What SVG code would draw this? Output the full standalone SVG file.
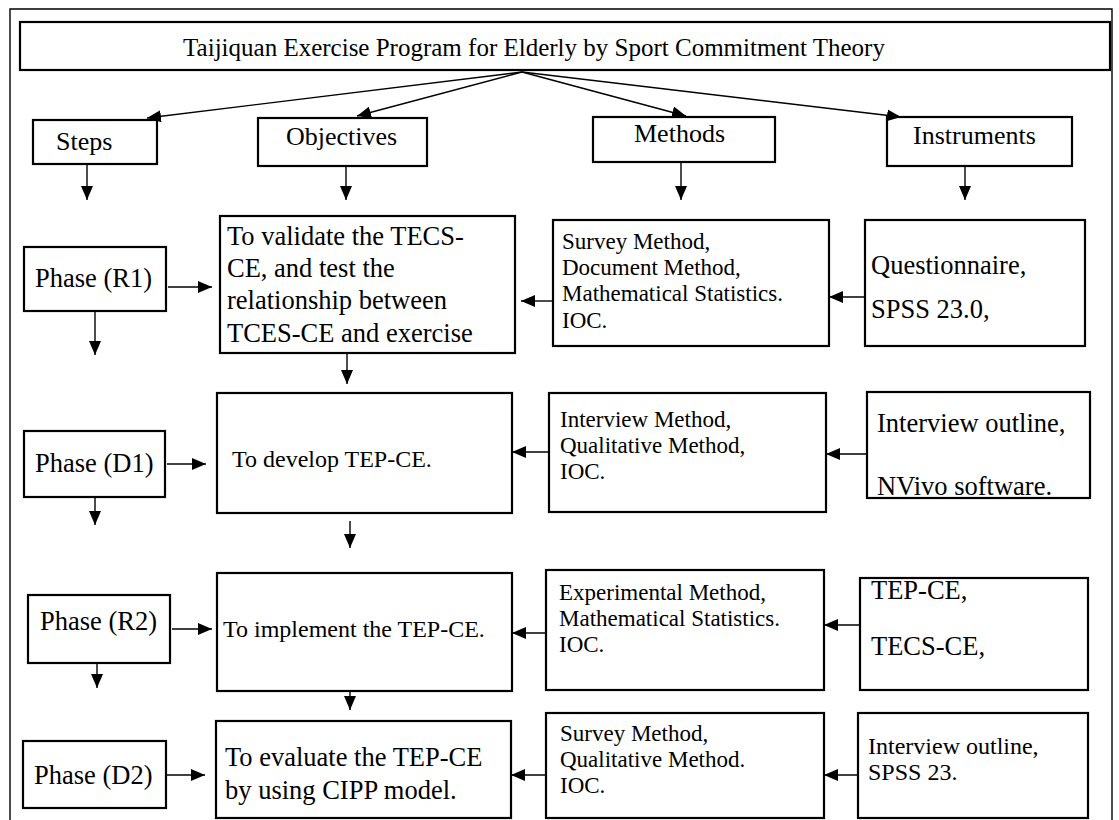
<svg xmlns="http://www.w3.org/2000/svg" width="1119" height="820" viewBox="0 0 1119 820">
<style>
.box{fill:#fff;stroke:#000;stroke-width:2.2}
.ln{fill:none;stroke:#000;stroke-width:1.4}
text{font-family:"Liberation Serif","Times New Roman",serif;fill:#000}
.tt{font-size:25px}
.hd{font-size:26px}
.ph{font-size:26.5px}
.ob{font-size:26.5px}
.ob2{font-size:24px}
.me{font-size:23px}
.in{font-size:26.5px}
.in2{font-size:24px}
</style>
<defs>
<marker id="ah" viewBox="0 0 14 12" refX="14" refY="6" markerWidth="14" markerHeight="12" markerUnits="userSpaceOnUse" orient="auto">
<path d="M0,0 L14,6 L0,12 z" fill="#000"/>
</marker>
</defs>
<rect width="1119" height="820" fill="#fff"/>
<path d="M10,820 V9 H1112 V820" class="ln" stroke-width="2"/>

<g id="title"><rect class="box" x="20" y="22" width="1090" height="48"/><text class="tt" x="534" y="56" text-anchor="middle">Taijiquan Exercise Program for Elderly by Sport Commitment Theory</text></g>

<g id="steps"><rect class="box" x="33" y="120" width="124" height="44"/><text class="hd" x="56" y="150">Steps</text></g>
<g id="objectives"><rect class="box" x="258" y="118" width="169" height="48"/><text class="hd" x="286" y="145">Objectives</text></g>
<g id="methods"><rect class="box" x="593" y="117" width="182" height="45"/><text class="hd" x="634" y="142">Methods</text></g>
<g id="instruments"><rect class="box" x="887" y="117" width="185" height="49"/><text class="hd" x="913" y="144">Instruments</text></g>

<g id="phaseR1"><rect class="box" x="24" y="247" width="142" height="64"/><text class="ph" x="35" y="287">Phase (R1)</text></g>
<g id="objR1"><rect class="box" x="220" y="216" width="295" height="137"/><text class="ob"><tspan x="227" y="245">To validate the TECS-</tspan><tspan x="227" y="277">CE, and test the</tspan><tspan x="227" y="309">relationship between</tspan><tspan x="227" y="342">TCES-CE and exercise</tspan></text></g>
<g id="methR1"><rect class="box" x="553" y="220" width="276" height="126"/><text class="me"><tspan x="562" y="249">Survey Method,</tspan><tspan x="562" y="275">Document Method,</tspan><tspan x="562" y="301">Mathematical Statistics.</tspan><tspan x="562" y="328">IOC.</tspan></text></g>
<g id="instR1"><rect class="box" x="865" y="220" width="220" height="126"/><text class="in"><tspan x="871" y="274">Questionnaire,</tspan><tspan x="871" y="318">SPSS 23.0,</tspan></text></g>

<g id="phaseD1"><rect class="box" x="24" y="431" width="141" height="66"/><text class="ph" x="35" y="472">Phase (D1)</text></g>
<g id="objD1"><rect class="box" x="217" y="393" width="295" height="120"/><text class="ob2" x="232" y="467">To develop TEP-CE.</text></g>
<g id="methD1"><rect class="box" x="549" y="393" width="277" height="119"/><text class="me"><tspan x="560" y="427">Interview Method,</tspan><tspan x="560" y="453">Qualitative Method,</tspan><tspan x="560" y="479">IOC.</tspan></text></g>
<g id="instD1"><rect class="box" x="867" y="392" width="223" height="106"/><text class="in"><tspan x="877" y="432">Interview outline,</tspan><tspan x="877" y="495">NVivo software.</tspan></text></g>

<g id="phaseR2"><rect class="box" x="28" y="595" width="142" height="68"/><text class="ph" x="40" y="630">Phase (R2)</text></g>
<g id="objR2"><rect class="box" x="217" y="573" width="295" height="118"/><text class="ob2" x="223" y="637">To implement the TEP-CE.</text></g>
<g id="methR2"><rect class="box" x="546" y="570" width="278" height="120"/><text class="me"><tspan x="559" y="600">Experimental Method,</tspan><tspan x="559" y="626">Mathematical Statistics.</tspan><tspan x="559" y="652">IOC.</tspan></text></g>
<g id="instR2"><rect class="box" x="860" y="578" width="228" height="112"/><text class="in"><tspan x="871" y="599">TEP-CE,</tspan><tspan x="871" y="655">TECS-CE,</tspan></text></g>

<g id="phaseD2"><rect class="box" x="23" y="741" width="143" height="67"/><text class="ph" x="34" y="784">Phase (D2)</text></g>
<g id="objD2"><rect class="box" x="216" y="721" width="295" height="97"/><text class="ob"><tspan x="225" y="766">To evaluate the TEP-CE</tspan><tspan x="225" y="799">by using CIPP model.</tspan></text></g>
<g id="methD2"><rect class="box" x="546" y="713" width="278" height="105"/><text class="me"><tspan x="560" y="741">Survey Method,</tspan><tspan x="560" y="767">Qualitative Method.</tspan><tspan x="560" y="793">IOC.</tspan></text></g>
<g id="instD2"><rect class="box" x="858" y="713" width="230" height="105"/><text class="in2"><tspan x="868" y="754">Interview outline,</tspan><tspan x="868" y="780">SPSS 23.</tspan></text></g>

<g id="connectors" class="ln" marker-end="url(#ah)">
<line x1="522" y1="72" x2="147" y2="118"/>
<line x1="522" y1="72" x2="357" y2="116"/>
<line x1="522" y1="72" x2="686" y2="116"/>
<line x1="522" y1="72" x2="901" y2="117"/>
<line x1="87" y1="164" x2="87" y2="200"/>
<line x1="346" y1="166" x2="346" y2="200"/>
<line x1="681" y1="162" x2="681" y2="200"/>
<line x1="965" y1="166" x2="965" y2="200"/>
<line x1="168" y1="287" x2="212" y2="287"/>
<line x1="553" y1="301" x2="521" y2="301"/>
<line x1="865" y1="297" x2="829" y2="297"/>
<line x1="95" y1="311" x2="95" y2="355"/>
<line x1="347" y1="353" x2="347" y2="384"/>
<line x1="167" y1="464" x2="206" y2="464"/>
<line x1="549" y1="452" x2="512" y2="452"/>
<line x1="867" y1="454" x2="826" y2="454"/>
<line x1="95" y1="497" x2="95" y2="525"/>
<line x1="350" y1="521" x2="350" y2="548"/>
<line x1="172" y1="629" x2="212" y2="629"/>
<line x1="546" y1="633" x2="512" y2="633"/>
<line x1="860" y1="625" x2="824" y2="625"/>
<line x1="97" y1="663" x2="97" y2="688"/>
<line x1="350" y1="691" x2="350" y2="710"/>
<line x1="167" y1="775" x2="205" y2="775"/>
<line x1="546" y1="775" x2="511" y2="775"/>
<line x1="858" y1="775" x2="824" y2="775"/>
</g>
</svg>
